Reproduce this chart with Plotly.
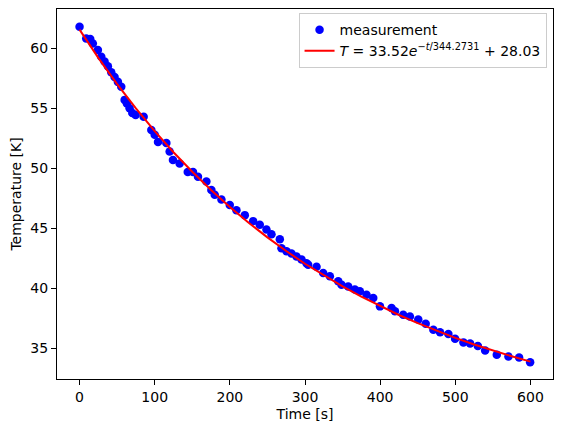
import plotly.graph_objects as go

time_s = [0, 8.9, 14.2, 17.7, 24.4, 28.9, 33.3, 37.7, 42.2, 46.6, 51, 55.5, 60, 63,
          66.6, 70.2, 74.6, 85.3, 95.5, 100, 104.4, 115.5, 119.9, 124.3, 133.2, 144,
          151, 157.6, 168.8, 175.4, 179.9, 188.8, 199.9, 208.8, 219.9, 231, 239.8,
          248.7, 255.4, 266.5, 268.7, 275.4, 282, 288.7, 295.4, 302, 304.2, 315.4,
          324.2, 333.1, 344.2, 348.6, 357.5, 366.4, 373, 381.9, 390.8, 399.7, 415.2,
          419.7, 430.7, 439.6, 450.7, 460.6, 470.8, 479.7, 490.8, 499.7, 510.8, 519.7,
          530, 539.7, 555.2, 570.7, 584.9, 599.6]
temp_k = [61.8, 60.82, 60.77, 60.4, 59.85, 59.3, 58.9, 58.5, 58.0, 57.6, 57.2, 56.8, 55.7,
          55.4, 55.0, 54.6, 54.45, 54.3, 53.2, 52.8, 52.2, 52.1, 51.4, 50.7, 50.4, 49.7,
          49.7, 49.3, 48.9, 48.2, 47.8, 47.4, 46.95, 46.5, 46.1, 45.6, 45.3, 44.9, 44.5,
          44.1, 43.35, 43.1, 42.9, 42.65, 42.4, 42.1, 41.96, 41.8, 41.27, 41.0, 40.6,
          40.3, 40.16, 39.9, 39.75, 39.47, 39.2, 38.5, 38.36, 38.1, 37.8, 37.66, 37.4,
          37.05, 36.55, 36.35, 36.2, 35.8, 35.5, 35.4, 35.2, 34.83, 34.48, 34.33, 34.25,
          33.85]

# fitted curve values
fit_t = [0, 25, 50, 75, 100, 125, 150, 175, 200, 225, 250, 275, 300, 325, 350, 375,
         400, 425, 450, 475, 500, 525, 550, 575, 600]
fit_T = [61.55, 59.20, 57.02, 54.99, 53.10, 51.34, 49.71, 48.19, 46.78, 45.47, 44.25,
         43.11, 42.05, 41.07, 40.16, 39.31, 38.52, 37.78, 37.10, 36.47, 35.88, 35.33,
         34.81, 34.34, 33.90]

x_ticks = [0, 100, 200, 300, 400, 500, 600]
y_ticks = [35, 40, 45, 50, 55, 60]

fig = go.Figure()
fig.add_trace(go.Scatter(x=time_s, y=temp_k, mode="markers", name="measurement",
                         marker=dict(color="#0000ff", size=8.5)))
fig.add_trace(go.Scatter(x=fit_t, y=fit_T, mode="lines",
                         name="<i>T</i> = 33.52<i>e</i><sup>\u2212<i>t</i>/344.2731</sup> + 28.03",
                         line=dict(color="#ff0000", width=2)))

axis_style = dict(showline=True, linecolor="black", linewidth=1, mirror=True,
                  ticks="outside", ticklen=5, tickcolor="black", showgrid=False,
                  zeroline=False, automargin=False, tickfont=dict(size=14, color="black"))

fig.update_xaxes(range=[-30, 630], tickvals=x_ticks,
                 title=dict(text="Time [s]", font=dict(size=14, color="black"), standoff=5),
                 **axis_style)
fig.update_yaxes(range=[32.45, 63.27], tickvals=y_ticks,
                 title=dict(text="Temperature [K]", font=dict(size=14, color="black"), standoff=5),
                 **axis_style)

# the page body adds an 8px offset, so margins are shifted to compensate
fig.update_layout(
    width=562, height=432,
    margin=dict(l=49, r=17, t=1, b=61, autoexpand=False),
    paper_bgcolor="white", plot_bgcolor="white",
    font=dict(family="DejaVu Sans", size=14, color="black"),
    showlegend=True,
    legend=dict(x=0.987, y=0.989, xanchor="right", yanchor="top",
                bgcolor="rgba(255,255,255,0.8)", bordercolor="#cccccc", borderwidth=1,
                itemwidth=30, font=dict(size=14)),
)

fig.write_html("out.html")
